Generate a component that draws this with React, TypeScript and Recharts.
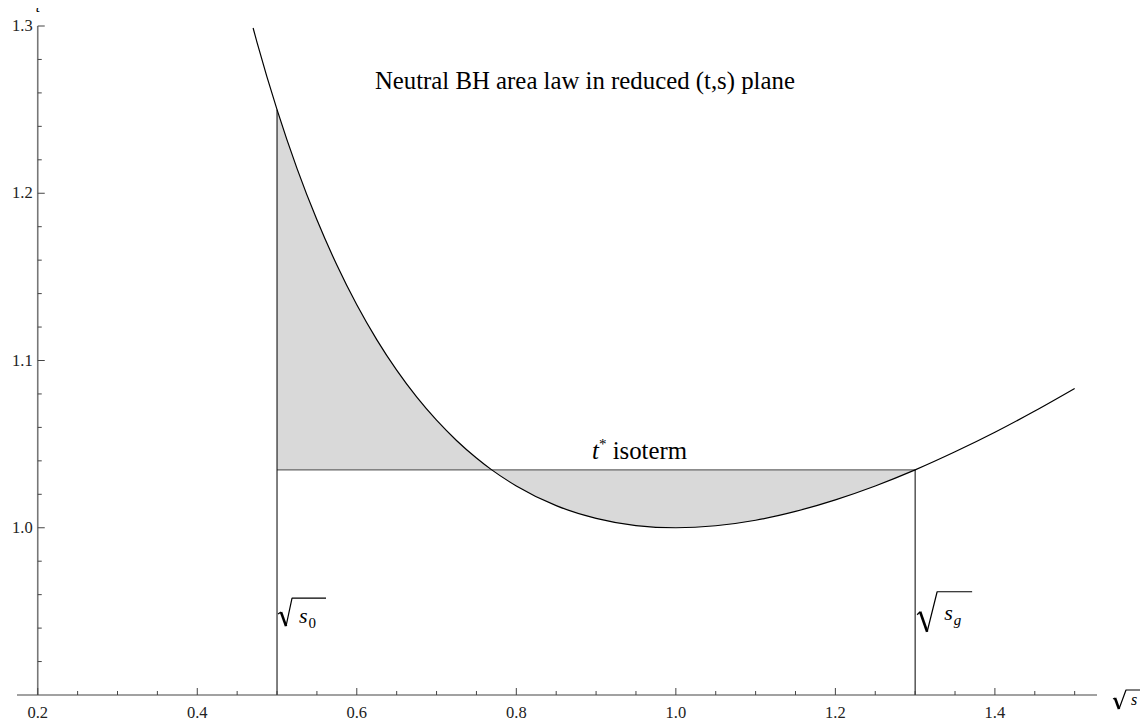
import React from "react";
import {
  Area,
  ComposedChart,
  Line,
  ReferenceDot,
  ReferenceLine,
  XAxis,
  YAxis,
} from "recharts";

const sValues = [
  0.47, 0.475, 0.5, 0.525, 0.55, 0.575, 0.6, 0.625, 0.65, 0.675, 0.7, 0.725,
  0.75, 0.7692, 0.8, 0.85, 0.9, 0.95, 1.0, 1.05, 1.1, 1.15, 1.2, 1.25, 1.3,
  1.35, 1.4, 1.45, 1.5,
];
const tValues = [
  1.2988, 1.2901, 1.25, 1.2149, 1.1841, 1.1571, 1.1333, 1.1125, 1.0942, 1.0782,
  1.0643, 1.0522, 1.0417, 1.0346, 1.025, 1.0132, 1.0056, 1.0013, 1.0, 1.0012,
  1.0045, 1.0098, 1.0167, 1.025, 1.0346, 1.0454, 1.0571, 1.0698, 1.0833,
];

const tStar = 1.0346;
const s0 = 0.5;
const sCross = 0.7692;
const sg = 1.3;

const xTicks = [
  0.2, 0.25, 0.3, 0.35, 0.4, 0.45, 0.5, 0.55, 0.6, 0.65, 0.7, 0.75, 0.8, 0.85,
  0.9, 0.95, 1.0, 1.05, 1.1, 1.15, 1.2, 1.25, 1.3, 1.35, 1.4, 1.45, 1.5,
];
const xMajor = [0.2, 0.4, 0.6, 0.8, 1.0, 1.2, 1.4];
const yTicks = [
  0.92, 0.94, 0.96, 0.98, 1.0, 1.02, 1.04, 1.06, 1.08, 1.1, 1.12, 1.14, 1.16,
  1.18, 1.2, 1.22, 1.24, 1.26, 1.28, 1.3,
];
const yMajor = [1.0, 1.1, 1.2, 1.3];

const title = "Neutral BH area law in reduced (t,s) plane";

const X_DOMAIN: [number, number] = [0.174, 1.528];
const Y_DOMAIN: [number, number] = [0.9, 1.3];
const W = 1148;
const H = 727;
const MARGIN = { top: 26, right: 51, bottom: 0, left: 8 };
const Y_AXIS_W = 9;
const PLOT_W = W - MARGIN.left - MARGIN.right - Y_AXIS_W;
// the vertical axis crosses at sqrt s = 0.2, not at the plot's left edge
const Y_AXIS_SHIFT = ((0.2 - X_DOMAIN[0]) / (X_DOMAIN[1] - X_DOMAIN[0])) * PLOT_W;

const SERIF = "'Liberation Serif', 'Times New Roman', serif";
const AXIS = "#444";

const data = sValues.map((s, i) => {
  const t = tValues[i];
  return {
    s,
    t,
    upper: s >= s0 && s <= sCross ? [tStar, t] : null,
    lower: s >= sCross && s <= sg ? [t, tStar] : null,
  };
});

const isIn = (list: number[], v: number) => list.some((m) => Math.abs(m - v) < 1e-6);

function XTick({ x, y, payload }: any) {
  const major = isIn(xMajor, payload.value);
  return (
    <g>
      <line x1={x} x2={x} y1={y} y2={y - (major ? 7 : 4)} stroke={AXIS} />
      {major && (
        <text x={x} y={y + 23} textAnchor="middle" fontSize={16.5} fontFamily={SERIF} fill="#222">
          {payload.value.toFixed(1)}
        </text>
      )}
    </g>
  );
}

function YTick({ x, y, payload }: any) {
  const ax = x + Y_AXIS_SHIFT;
  const major = isIn(yMajor, payload.value);
  return (
    <g>
      <line x1={ax} x2={ax + (major ? 7 : 4)} y1={y} y2={y} stroke={AXIS} />
      {major && (
        <text x={ax - 5} y={y + 5} textAnchor="end" fontSize={16.5} fontFamily={SERIF} fill="#222">
          {payload.value.toFixed(1)}
        </text>
      )}
    </g>
  );
}

// radical sign: hook, thick down stroke, thin up stroke, overline
function Radical({ x, y, pts }: { x: number; y: number; pts: number[][] }) {
  const [a, b, c, d, e] = pts.map(([dx, dy]) => [x + dx, y + dy]);
  return (
    <g fill="none" stroke="#000" strokeLinejoin="round">
      <path d={`M${a[0]},${a[1]} L${b[0]},${b[1]}`} strokeWidth={1.2} />
      <path d={`M${b[0]},${b[1]} L${c[0]},${c[1]}`} strokeWidth={2.6} />
      <path d={`M${c[0]},${c[1]} L${d[0]},${d[1]} L${e[0]},${e[1]}`} strokeWidth={1.2} />
    </g>
  );
}

function SqrtLabel({ cx, cy, sub, big }: { cx: number; cy: number; sub: string; big: boolean }) {
  const pts = big
    ? [[2, -5], [5, -8], [12, 12], [22, -28], [57, -28]]
    : [[1, -9], [4, -11], [9, 3], [15, -25], [49, -25]];
  const sx = big ? 29 : 22;
  return (
    <g>
      <Radical x={cx} y={cy} pts={pts} />
      <text x={cx + sx} y={cy} fontSize={22} fontStyle="italic" fontFamily={SERIF} fill="#000">
        s
      </text>
      <text
        x={cx + sx + 9.5}
        y={cy + 5}
        fontSize={15}
        fontStyle={big ? "italic" : "normal"}
        fontFamily={SERIF}
        fill="#000"
      >
        {sub}
      </text>
    </g>
  );
}

const dotCenter = (vb: any) => ({ cx: vb.x + vb.width / 2, cy: vb.y + vb.height / 2 });

export default function App() {
  return (
    <div style={{ width: W, height: H, background: "#fff", margin: "-8px 0 0 -8px" }}>
      <ComposedChart width={W} height={H} data={data} margin={MARGIN}>
        <XAxis
          type="number"
          dataKey="s"
          domain={X_DOMAIN}
          ticks={xTicks}
          interval={0}
          allowDataOverflow
          height={32}
          tickSize={0}
          tickMargin={0}
          tickLine={false}
          axisLine={{ stroke: AXIS, strokeWidth: 1.2 }}
          tick={<XTick />}
          label={{
            content: (p: any) => {
              const vb = p.viewBox;
              const x0 = vb.x + vb.width;
              const y0 = vb.y;
              return (
                <g>
                  <Radical x={x0} y={y0} pts={[[16, 4], [18, 3], [22, 14], [29, -5], [51, -5]]} />
                  <text x={x0 + 34} y={y0 + 10} fontSize={16} fontStyle="italic" fontFamily={SERIF} fill="#000">
                    s
                  </text>
                </g>
              );
            },
          }}
        />
        <YAxis
          type="number"
          domain={Y_DOMAIN}
          ticks={yTicks}
          interval={0}
          allowDataOverflow
          width={Y_AXIS_W}
          tickSize={0}
          tickMargin={0}
          tickLine={false}
          axisLine={false}
          tick={<YTick />}
          label={{
            content: (p: any) => {
              const vb = p.viewBox;
              return (
                <text
                  x={vb.x + vb.width + Y_AXIS_SHIFT}
                  y={vb.y - 14}
                  textAnchor="middle"
                  fontSize={15}
                  fontStyle="italic"
                  fontFamily={SERIF}
                  fill="#000"
                >
                  t
                </text>
              );
            },
          }}
        />
        <Area
          type="monotone"
          dataKey="upper"
          fill="#d9d9d9"
          fillOpacity={1}
          stroke="none"
          isAnimationActive={false}
        />
        <Area
          type="monotone"
          dataKey="lower"
          fill="#d9d9d9"
          fillOpacity={1}
          stroke="none"
          isAnimationActive={false}
        />
        <ReferenceLine x={0.2} stroke="#777" strokeWidth={1.6} />
        <ReferenceLine
          segment={[
            { x: s0, y: tStar },
            { x: sg, y: tStar },
          ]}
          stroke="#666"
          strokeWidth={1.2}
        />
        <ReferenceLine
          segment={[
            { x: s0, y: Y_DOMAIN[0] },
            { x: s0, y: tValues[sValues.indexOf(s0)] },
          ]}
          stroke="#000"
          strokeWidth={1}
        />
        <ReferenceLine
          segment={[
            { x: sg, y: Y_DOMAIN[0] },
            { x: sg, y: tValues[sValues.indexOf(sg)] },
          ]}
          stroke="#000"
          strokeWidth={1}
        />
        <Line
          type="monotone"
          dataKey="t"
          stroke="#000"
          strokeWidth={1.2}
          dot={false}
          isAnimationActive={false}
        />
        <ReferenceDot
          x={0.886}
          y={1.2625}
          r={0}
          stroke="none"
          fill="none"
          label={{
            content: (p: any) => {
              const { cx, cy } = dotCenter(p.viewBox);
              return (
                <text x={cx} y={cy} textAnchor="middle" fontSize={24.8} fontFamily={SERIF} fill="#000">
                  {title}
                </text>
              );
            },
          }}
        />
        <ReferenceDot
          x={0.895}
          y={1.0411}
          r={0}
          stroke="none"
          fill="none"
          label={{
            content: (p: any) => {
              const { cx, cy } = dotCenter(p.viewBox);
              return (
                <text x={cx} y={cy} fontSize={24.8} fontFamily={SERIF} fill="#000">
                  <tspan fontStyle="italic">t</tspan>
                  <tspan fontSize={15} dy={-10}>*</tspan>
                  <tspan dy={10}> isoterm</tspan>
                </text>
              );
            },
          }}
        />
        <ReferenceDot
          x={s0}
          y={0.943}
          r={0}
          stroke="none"
          fill="none"
          label={{
            content: (p: any) => {
              const { cx, cy } = dotCenter(p.viewBox);
              return <SqrtLabel cx={cx} cy={cy} sub="0" big={false} />;
            },
          }}
        />
        <ReferenceDot
          x={sg}
          y={0.945}
          r={0}
          stroke="none"
          fill="none"
          label={{
            content: (p: any) => {
              const { cx, cy } = dotCenter(p.viewBox);
              return <SqrtLabel cx={cx} cy={cy} sub="g" big={true} />;
            },
          }}
        />
      </ComposedChart>
    </div>
  );
}
